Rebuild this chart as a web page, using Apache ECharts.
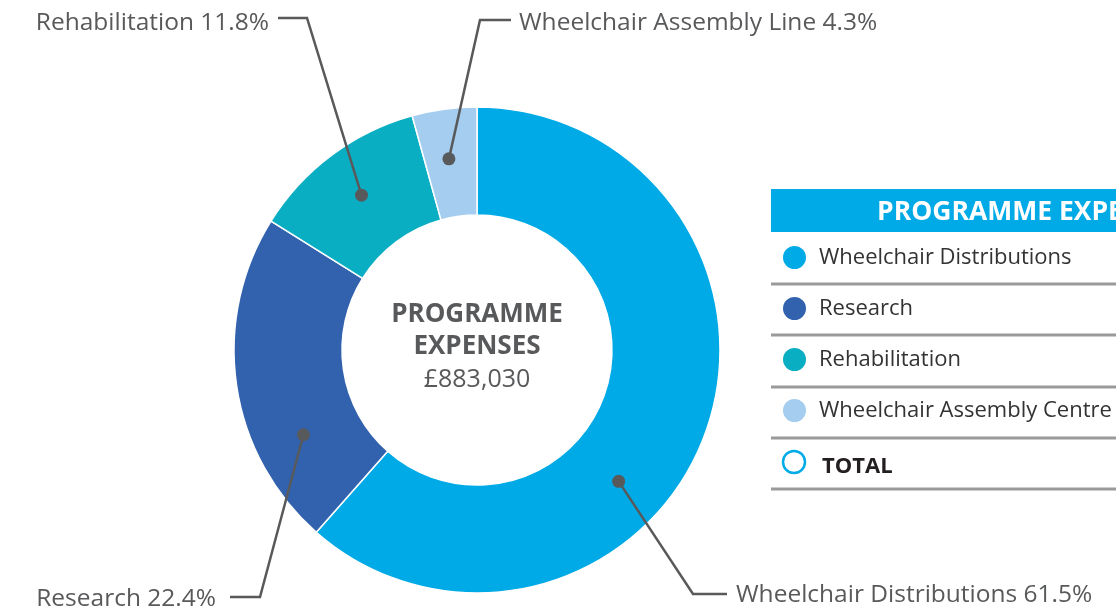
<!DOCTYPE html>
<html>
<head>
<meta charset="utf-8">
<script src="https://cdn.jsdelivr.net/npm/echarts@6/dist/echarts.min.js"></script>
<style>
html,body{margin:0;padding:0;background:#fff;}
#chart{width:1116px;height:612px;}
</style>
</head>
<body>
<div id="chart"></div>
<script>
// ---- data ----
const categories = ['Wheelchair Distributions', 'Research', 'Rehabilitation', 'Wheelchair Assembly Centre'];
const labelNames = ['Wheelchair Distributions', 'Research', 'Rehabilitation', 'Wheelchair Assembly Line'];
const shares = [61.5, 22.4, 11.8, 4.3];
const totalExpenses = 883030;
const centreTitle = ['PROGRAMME', 'EXPENSES'];
const tableTitle = 'PROGRAMME EXPENSES';
const totalLabel = 'TOTAL';

// ---- layout / style ----
const colors = ['#00aae6', '#3262ae', '#0aaec2', '#a4cdef'];
const CX = 477, CY = 350, R_OUT = 243, R_IN = 135;
const anchorFrac = [0.6, 0.28, 0.5, 0.46];   // where each dot sits inside its slice
const anchorRadius = 0.795;                    // fraction of outer radius
const labelPos = [[736, 595, 'left'], [216, 599, 'right'], [269, 23, 'right'], [519, 23, 'left']];
const bendPos = [[693, 594], [260, 597], [307, 18], [480, 20]];
const lineEnd = [[727, 594], [230, 597], [278, 18], [511, 20]];
const FONT = '"Open Sans", sans-serif';

const sum = shares.reduce((a, b) => a + b, 0);
const anchorAngles = [];
let cum = 0;
shares.forEach((v, i) => { anchorAngles.push(cum + anchorFrac[i] * v); cum += v; });

function anchorPixel(i) {
  const a = anchorAngles[i] / sum * Math.PI * 2;
  const r = anchorRadius * R_OUT;
  return [CX + r * Math.sin(a), CY - r * Math.cos(a)];
}

const chart = echarts.init(document.getElementById('chart'), null, { renderer: 'canvas' });

const tableX = 771;
const rowLines = [284, 335, 387, 438, 489];
const graphics = [
  { type: 'rect', shape: { x: tableX, y: 189, width: 400, height: 43 }, style: { fill: '#00aae6' }, silent: true },
  { type: 'text', x: 877, y: 212, style: { text: tableTitle, fill: '#fff', font: 'bold 26.5px ' + FONT, verticalAlign: 'middle' }, silent: true },
  { type: 'circle', shape: { cx: 794, cy: 462, r: 11 }, style: { fill: '#fff', stroke: '#00aae6', lineWidth: 2.5 }, silent: true },
  { type: 'text', x: 822, y: 467, style: { text: totalLabel, fill: '#231f20', font: 'bold 22px ' + FONT, verticalAlign: 'middle' }, silent: true }
];
rowLines.forEach(y => graphics.push({
  type: 'line', shape: { x1: tableX, y1: y, x2: 1116, y2: y },
  style: { stroke: '#9a9a9c', lineWidth: 3 }, silent: true
}));

const pieData = categories.map((c, i) => ({ name: c, value: shares[i] }));

const option = {
  backgroundColor: '#fff',
  animation: false,
  color: colors,
  title: {
    left: CX, top: 299, textAlign: 'center', padding: 0,
    text: '{b|' + centreTitle[0] + '}\n{b|' + centreTitle[1] + '}\n{n|£' + totalExpenses.toLocaleString('en-GB') + '}',
    textStyle: {
      rich: {
        b: { fontFamily: FONT, fontWeight: 'bold', fontSize: 26, color: '#58595b', lineHeight: 32 },
        n: { fontFamily: FONT, fontWeight: 'normal', fontSize: 25, color: '#58595b', lineHeight: 33 }
      }
    }
  },
  legend: {
    orient: 'vertical', left: 776, top: 239,
    icon: 'circle', itemWidth: 25, itemHeight: 25, itemGap: 24,
    selectedMode: false,
    data: categories,
    textStyle: { fontFamily: FONT, fontSize: 22, color: '#333', lineHeight: 22, padding: [3, 0, 0, 7] }
  },
  polar: { center: [CX, CY], radius: R_OUT },
  angleAxis: { type: 'value', min: 0, max: sum, startAngle: 90, clockwise: true, show: false },
  radiusAxis: { type: 'value', min: 0, max: 1, show: false },
  graphic: graphics,
  series: [
    {
      type: 'pie',
      z: 2,
      center: [CX, CY],
      radius: [R_IN, R_OUT],
      startAngle: 90,
      clockwise: true,
      silent: true,
      itemStyle: { borderColor: '#fff', borderWidth: 1.5 },
      label: { show: false },
      labelLine: { show: false },
      data: pieData
    },
    {
      // transparent overlay carrying the callout labels and leader lines above the ring
      type: 'pie',
      z: 5,
      center: [CX, CY],
      radius: [R_IN, R_OUT],
      startAngle: 90,
      clockwise: true,
      avoidLabelOverlap: false,
      silent: true,
      itemStyle: { color: 'rgba(0,0,0,0)', borderWidth: 0 },
      label: {
        show: true, position: 'outside',
        fontFamily: FONT, fontSize: 24.5, color: '#58595b',
        formatter: p => labelNames[p.dataIndex] + ' ' + p.value.toFixed(1) + '%'
      },
      labelLine: { show: true, showAbove: true, smooth: false, lineStyle: { color: '#58595b', width: 2.5 } },
      labelLayout: function (params) {
        const i = params.dataIndex;
        return {
          x: labelPos[i][0], y: labelPos[i][1],
          align: labelPos[i][2], verticalAlign: 'middle',
          labelLinePoints: [anchorPixel(i), bendPos[i], lineEnd[i]]
        };
      },
      data: pieData
    },
    {
      type: 'scatter',
      coordinateSystem: 'polar',
      symbol: 'circle', symbolSize: 13,
      silent: true,
      itemStyle: { color: '#58595b', opacity: 1 },
      z: 10,
      data: anchorAngles.map(a => [anchorRadius, a])
    }
  ]
};
chart.setOption(option);
</script>
</body>
</html>
